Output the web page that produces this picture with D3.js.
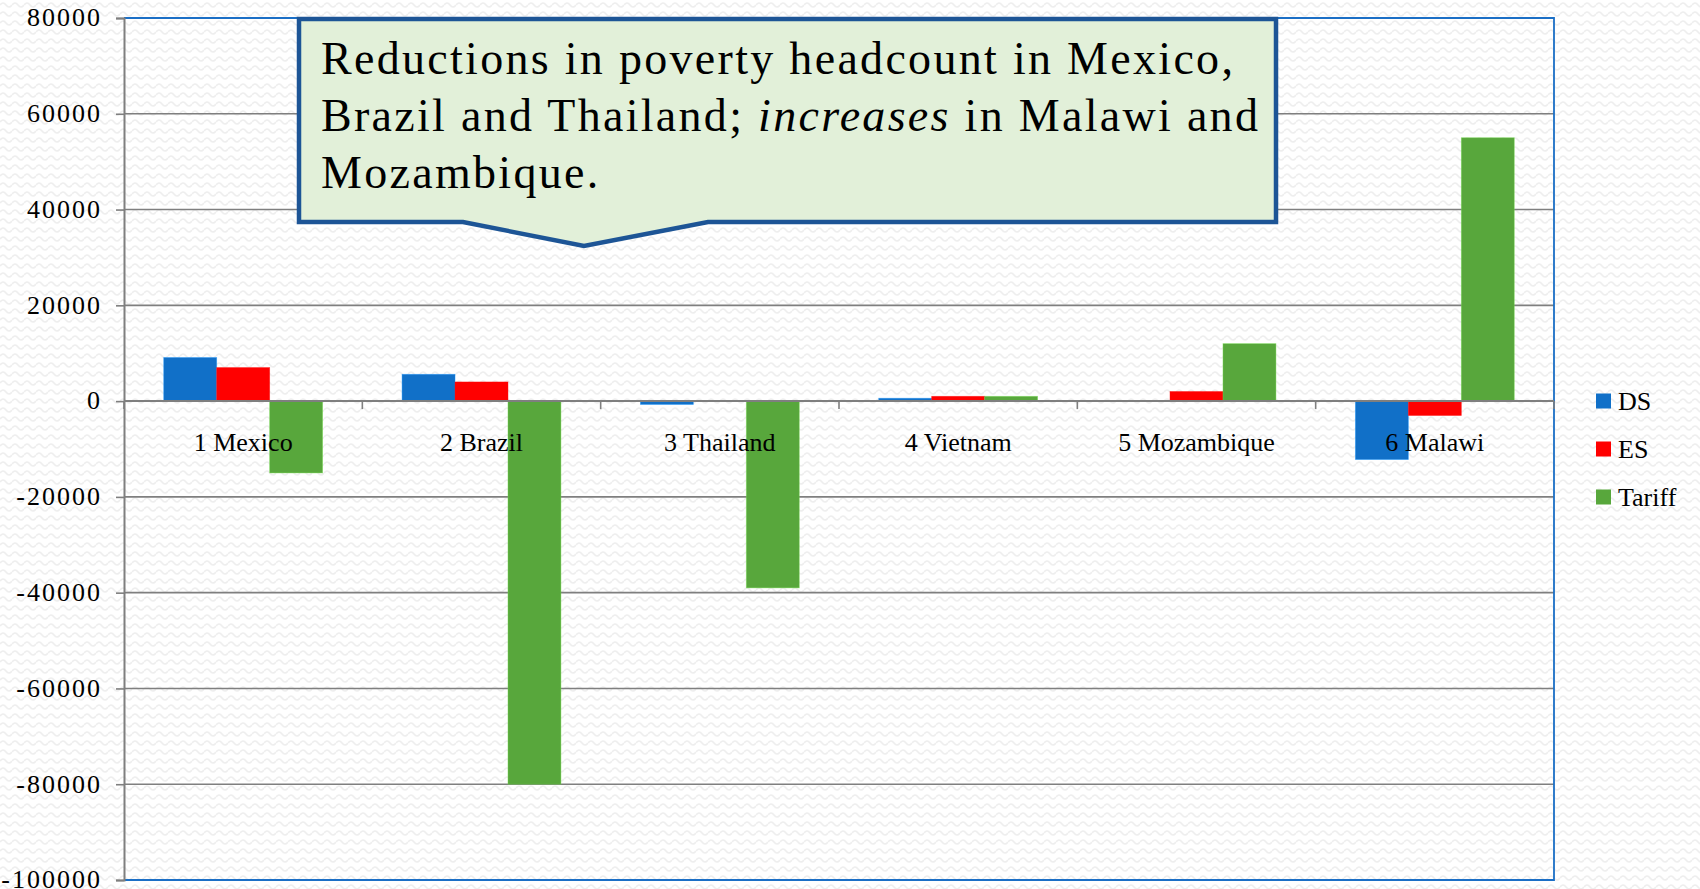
<!DOCTYPE html>
<html>
<head>
<meta charset="utf-8">
<script src="https://cdn.jsdelivr.net/npm/d3@7"></script>
<style>
  html, body { margin: 0; padding: 0; background: #ffffff; }
  svg { display: block; }
  text { font-family: "Liberation Serif", "DejaVu Serif", serif; fill: #000; }
</style>
</head>
<body>
<svg id="chart" width="1700" height="889"></svg>
<script>
// Change in poverty headcount by country and scenario
const categories = ["1 Mexico", "2 Brazil", "3 Thailand", "4 Vietnam", "5 Mozambique", "6 Malawi"];
const seriesNames = ["DS", "ES", "Tariff"];
const dsValues = [9100, 5600, -700, 600, 0, -12200];
const esValues = [7000, 4000, -100, 1000, 2000, -3000];
const tariffValues = [-15000, -80000, -39000, 1000, 12000, 55000];
const yTicks = [80000, 60000, 40000, 20000, 0, -20000, -40000, -60000, -80000, -100000];
const seriesColors = ["#1170c8", "#ff0000", "#58a73c"];
const calloutLines = [
  [{ t: "Reductions in poverty headcount in Mexico,", i: false }],
  [{ t: "Brazil and Thailand; ", i: false }, { t: "increases", i: true }, { t: " in Malawi and", i: false }],
  [{ t: "Mozambique.", i: false }]
];

const rows = categories.map((c, k) => ({
  category: c,
  values: [dsValues[k], esValues[k], tariffValues[k]]
}));

const svg = d3.select("#chart");
const W = 1700, H = 889;
const plot = { left: 124, right: 1554, top: 18, bottom: 880 };

// Faint wavy background texture
const defs = svg.append("defs");
const pat = defs.append("pattern")
  .attr("id", "wave").attr("patternUnits", "userSpaceOnUse")
  .attr("width", 12).attr("height", 9);
pat.append("rect").attr("width", 12).attr("height", 9).attr("fill", "#ffffff");
pat.append("path")
  .attr("d", "M0 5 Q3 1 6 5 T12 5")
  .attr("fill", "none").attr("stroke", "#eeeeee").attr("stroke-width", 1.6);
svg.append("rect").attr("width", W).attr("height", H).attr("fill", "url(#wave)");

const y = d3.scaleLinear().domain([-100000, 80000]).range([plot.bottom, plot.top]);
const x0 = d3.scaleBand().domain(categories).range([plot.left, plot.right])
  .paddingInner(1.5 / 4.5).paddingOuter(0.75 / 4.5);
const x1 = d3.scaleBand().domain(seriesNames).range([0, x0.bandwidth()]).padding(0);
const color = d3.scaleOrdinal().domain(seriesNames).range(seriesColors);

// Horizontal gridlines
svg.append("g").selectAll("line")
  .data(yTicks.filter(v => v !== 80000 && v !== -100000 && v !== 0))
  .join("line")
  .attr("x1", plot.left).attr("x2", plot.right)
  .attr("y1", d => y(d)).attr("y2", d => y(d))
  .attr("stroke", "#7f7f7f").attr("stroke-width", 1.6);

// Plot-area border (top, right, bottom)
svg.append("path")
  .attr("d", `M${plot.left},${y(80000)} H${plot.right} V${y(-100000)} H${plot.left}`)
  .attr("fill", "none").attr("stroke", "#1b6fc6").attr("stroke-width", 1.8);

// Bars
const groups = svg.append("g").selectAll("g")
  .data(rows).join("g")
  .attr("transform", d => `translate(${x0(d.category)},0)`);
groups.selectAll("rect")
  .data(d => d.values.map((v, i) => ({ key: seriesNames[i], value: v })))
  .join("rect")
  .attr("x", d => x1(d.key))
  .attr("width", x1.bandwidth())
  .attr("y", d => y(Math.max(0, d.value)))
  .attr("height", d => Math.abs(y(d.value) - y(0)))
  .attr("fill", d => color(d.key))
  .attr("stroke", d => d3.color(color(d.key)).brighter(0.8))
  .attr("stroke-opacity", 0.5)
  .attr("stroke-width", 0.8);

// Y axis
const yAxis = svg.append("g")
  .attr("transform", `translate(${plot.left},0)`)
  .call(d3.axisLeft(y).tickValues(yTicks).tickSize(8).tickPadding(14).tickFormat(d => String(d)));
yAxis.attr("font-family", null).attr("font-size", null);
yAxis.select(".domain").attr("stroke", "#7f7f7f").attr("stroke-width", 2);
yAxis.selectAll(".tick line").attr("stroke", "#7f7f7f").attr("stroke-width", 1.6);
yAxis.selectAll(".tick text")
  .style("font-family", "'Liberation Serif', serif")
  .style("font-size", "26px")
  .style("letter-spacing", "2px")
  .attr("fill", "#000")
  .attr("dy", "0.3em");

// Category axis along zero
const boundaries = categories.map(c => x0(c) - x0.step() * x0.paddingInner() / 2);
boundaries.push(plot.right);
svg.append("line")
  .attr("x1", plot.left).attr("x2", plot.right)
  .attr("y1", y(0)).attr("y2", y(0))
  .attr("stroke", "#7f7f7f").attr("stroke-width", 2);
svg.append("g").selectAll("line")
  .data(boundaries).join("line")
  .attr("x1", d => d).attr("x2", d => d)
  .attr("y1", y(0)).attr("y2", y(0) + 8)
  .attr("stroke", "#7f7f7f").attr("stroke-width", 1.6);
svg.append("g").selectAll("text")
  .data(categories).join("text")
  .attr("x", d => x0(d) + x0.bandwidth() / 2)
  .attr("y", y(0) + 50)
  .attr("text-anchor", "middle")
  .attr("font-size", 26)
  .text(d => d);

// Legend
const legend = svg.append("g").selectAll("g")
  .data(seriesNames).join("g")
  .attr("transform", (d, i) => `translate(1596,${401 + i * 48})`);
legend.append("rect")
  .attr("x", 0).attr("y", -7.5).attr("width", 15).attr("height", 15)
  .attr("fill", d => color(d));
legend.append("text")
  .attr("x", 22).attr("y", 9)
  .attr("font-size", 26)
  .text(d => d);

// Callout box with downward pointer
const cb = { l: 299, r: 1276, t: 19, b: 222, p1: 463, tipX: 584, tipY: 246, p2: 708 };
svg.append("path")
  .attr("d", `M${cb.l},${cb.t} H${cb.r} V${cb.b} H${cb.p2} L${cb.tipX},${cb.tipY} L${cb.p1},${cb.b} H${cb.l} Z`)
  .attr("fill", "#e2f0d9").attr("stroke", "#1d5596").attr("stroke-width", 4.5)
  .attr("stroke-linejoin", "miter");
const ct = svg.append("g");
calloutLines.forEach((line, li) => {
  const t = ct.append("text")
    .attr("x", 321).attr("y", 74 + li * 57)
    .attr("font-size", 46)
    .style("letter-spacing", "2.3px");
  line.forEach(seg => {
    t.append("tspan").attr("font-style", seg.i ? "italic" : "normal").text(seg.t);
  });
});
</script>
</body>
</html>
